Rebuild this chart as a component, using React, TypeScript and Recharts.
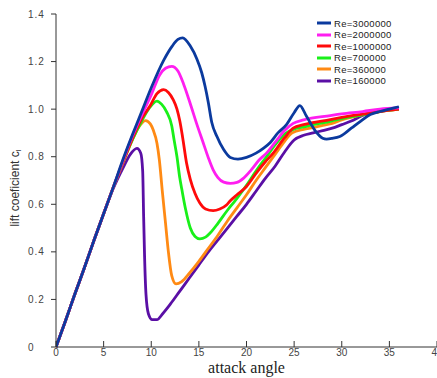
import React from 'react';
import { LineChart, Line, XAxis, YAxis } from 'recharts';

const xTicks = [0, 5, 10, 15, 20, 25, 30, 35, 40];
const yTicks = [0, 0.2, 0.4, 0.6, 0.8, 1.0, 1.2, 1.4];

const re3000000: [number, number][] = [
  [0, 0], [1, 0.11], [2, 0.225], [3, 0.335], [4, 0.45], [5, 0.56], [6, 0.67], [7, 0.785], [8, 0.89],
  [9, 0.99], [10, 1.09], [11.3, 1.205], [12.2, 1.265], [12.8, 1.293], [13.3, 1.3], [14.1, 1.265],
  [14.8, 1.21], [15.3, 1.153], [15.65, 1.096], [16.0, 1.026], [16.35, 0.945], [16.9, 0.885],
  [17.6, 0.83], [18.3, 0.797], [19.1, 0.79], [20, 0.797], [21, 0.815], [21.8, 0.836], [22.5, 0.86],
  [23.3, 0.9], [24.2, 0.935], [25, 0.985], [25.6, 1.015], [26.3, 0.97], [27.2, 0.91], [28, 0.878],
  [28.4, 0.874], [29, 0.877], [29.8, 0.885], [31, 0.92], [32, 0.95], [33, 0.977], [34, 0.99],
  [35, 1.0], [36, 1.01],
];

const re2000000: [number, number][] = [
  [0, 0], [1, 0.11], [2, 0.225], [3, 0.335], [4, 0.45], [5, 0.56], [6, 0.67], [7, 0.78], [8, 0.885],
  [9, 0.975], [10, 1.06], [10.9, 1.145], [11.5, 1.172], [12.15, 1.18], [12.8, 1.16], [13.4, 1.105],
  [14.2, 1.01], [14.8, 0.935], [15.4, 0.865], [16.0, 0.795], [16.5, 0.745], [17.0, 0.712],
  [17.6, 0.693], [18.3, 0.688], [19, 0.692], [19.7, 0.71], [20.5, 0.745], [21.3, 0.785], [22.1, 0.815],
  [23, 0.86], [24, 0.91], [24.9, 0.94], [26, 0.955], [28.8, 0.973], [30, 0.98], [32.2, 0.99],
  [34, 1.0], [36, 1.005],
];

const re1000000: [number, number][] = [
  [0, 0], [1, 0.11], [2, 0.225], [3, 0.335], [4, 0.45], [5, 0.56], [6, 0.67], [7, 0.775], [8, 0.875],
  [9, 0.96], [9.9, 1.015], [10.6, 1.065], [11.3, 1.082], [11.8, 1.07], [12.3, 1.04], [12.7, 1.0],
  [13.0, 0.95], [13.3, 0.88], [13.7, 0.775], [14.1, 0.705], [14.6, 0.645], [15.1, 0.605], [15.7, 0.58],
  [16.5, 0.573], [17.2, 0.58], [17.9, 0.597], [18.3, 0.615], [19, 0.64], [20, 0.675], [21, 0.73],
  [22, 0.78], [22.8, 0.815], [24, 0.88], [24.9, 0.92], [26, 0.935], [28.8, 0.956], [30, 0.965],
  [32, 0.978], [34, 0.99], [36, 1.0],
];

const re700000: [number, number][] = [
  [0, 0], [1, 0.11], [2, 0.225], [3, 0.335], [4, 0.45], [5, 0.56], [6, 0.67], [7, 0.775], [8, 0.87],
  [9, 0.95], [9.8, 1.005], [10.6, 1.034], [11.1, 1.02], [11.6, 0.99], [12.15, 0.93], [12.4, 0.87],
  [12.7, 0.8], [13.0, 0.71], [13.2, 0.665], [13.6, 0.58], [14.1, 0.5], [14.6, 0.465], [15.1, 0.455],
  [15.7, 0.462], [16.2, 0.48], [17, 0.52], [18, 0.575], [18.6, 0.605], [19, 0.625], [20, 0.68],
  [21, 0.74], [22.1, 0.8], [23, 0.85], [24, 0.895], [24.9, 0.915], [26, 0.925], [27, 0.935],
  [28.8, 0.949], [30, 0.96], [32, 0.975], [34, 0.99], [36, 1.0],
];

const re360000: [number, number][] = [
  [0, 0], [1, 0.11], [2, 0.225], [3, 0.335], [4, 0.45], [5, 0.56], [6, 0.67], [7, 0.77], [8, 0.87],
  [8.7, 0.925], [9.4, 0.952], [9.9, 0.938], [10.2, 0.913], [10.6, 0.857], [10.85, 0.787],
  [11.15, 0.66], [11.5, 0.52], [11.8, 0.4], [12.15, 0.3], [12.6, 0.265], [13.2, 0.275], [14, 0.31],
  [15, 0.36], [16, 0.415], [17, 0.47], [18, 0.53], [19, 0.585], [20, 0.64], [21, 0.7], [22, 0.755],
  [23, 0.81], [24, 0.865], [24.8, 0.9], [26, 0.915], [27, 0.922], [28, 0.932], [29, 0.94],
  [30, 0.955], [32, 0.975], [34, 0.99], [36, 1.0],
];

const re160000: [number, number][] = [
  [0, 0], [1, 0.11], [2, 0.225], [3, 0.335], [4, 0.45], [5, 0.56], [6, 0.665], [7, 0.75], [7.8, 0.81],
  [8.5, 0.835], [8.9, 0.815], [9.1, 0.74], [9.2, 0.55], [9.3, 0.38], [9.45, 0.22], [9.7, 0.14],
  [10.1, 0.115], [10.6, 0.115], [11.2, 0.14], [12, 0.18], [13, 0.235], [14, 0.29], [15, 0.345],
  [16, 0.4], [17, 0.45], [18, 0.5], [19, 0.55], [20, 0.6], [21, 0.655], [22, 0.71], [23, 0.76],
  [24, 0.82], [25, 0.87], [26, 0.89], [27, 0.9], [28, 0.91], [29, 0.92], [30, 0.935], [31, 0.95],
  [32, 0.97], [33, 0.985], [34, 0.995], [35, 1.0], [36, 1.005],
];

const seriesNames = ['Re=3000000', 'Re=2000000', 'Re=1000000', 'Re=700000', 'Re=360000', 'Re=160000'];
const seriesColors = ['#0b3a9e', '#ff1ef0', '#ff0a0a', '#19f019', '#ff8a14', '#5a0fa5'];
const seriesData = [re3000000, re2000000, re1000000, re700000, re360000, re160000];

const toPoints = (arr: [number, number][]) => arr.map(([x, y]) => ({ x, y }));

const fmtY = (v: number) => (v === 0 ? '0' : v.toFixed(1));

const YTick = (props: any) => {
  const { x, y, payload } = props;
  return (
    <text x={x - 21} y={y} dy="0.35em" textAnchor="start" fontSize={10} fill="#444"
      letterSpacing={1} fontFamily="Liberation Sans, Arial, sans-serif">
      {fmtY(payload.value)}
    </text>
  );
};

const XTick = (props: any) => {
  const { x, y, payload } = props;
  return (
    <g>
      <line x1={x} x2={x} y1={y} y2={y - 6} stroke="#333" strokeWidth={1} />
      <text x={x} y={y + 9} textAnchor="middle" fontSize={10} fill="#444"
        fontFamily="Liberation Sans, Arial, sans-serif">
        {payload.value}
      </text>
    </g>
  );
};

const XLabel = (props: any) => {
  const { viewBox } = props;
  return (
    <text x={viewBox.x + viewBox.width / 2} y={viewBox.y + 26} textAnchor="middle" fontSize={16}
      fill="#222" fontFamily="Liberation Serif, Times New Roman, serif">
      attack angle
    </text>
  );
};

const YLabel = (props: any) => {
  const { viewBox } = props;
  const cx = 19;
  const cy = viewBox.y + viewBox.height / 2 + 7.5;
  return (
    <text x={cx} y={cy} transform={`rotate(-90 ${cx} ${cy})`} textAnchor="middle" fontSize={12}
      fill="#333" fontFamily="Liberation Sans, Arial, sans-serif">
      lift coeficient c<tspan fontSize={8} dy={2}>l</tspan>
    </text>
  );
};

const LegendBox = () => (
  <div style={{ position: 'absolute', left: 317, top: 17.5, fontFamily: 'Liberation Sans, Arial, sans-serif', fontSize: 9.5, color: '#222', lineHeight: '11.5px' }}>
    {seriesNames.map((n, i) => (
      <div key={n} style={{ display: 'flex', alignItems: 'center', height: 11.5 }}>
        <svg width={15} height={6} style={{ marginRight: 2, display: 'block' }}>
          <line x1={0} x2={14} y1={3} y2={3} stroke={seriesColors[i]} strokeWidth={3} />
        </svg>
        <span style={{ letterSpacing: 0.3 }}>{n}</span>
      </div>
    ))}
  </div>
);

export default function App() {
  const order = [5, 4, 3, 2, 1, 0];
  return (
    <div style={{ position: 'absolute', left: 0, top: 0, width: 437, height: 378, background: '#fff' }}>
      <LineChart width={437} height={378} margin={{ top: 14, right: 0, left: 0, bottom: 0 }}>
        <XAxis dataKey="x" type="number" domain={[0, 40]} ticks={xTicks} allowDataOverflow
          height={31} tickSize={0} tickMargin={0} tickLine={false} tick={<XTick />}
          axisLine={{ stroke: '#333' }} label={<XLabel />} interval={0} />
        <YAxis type="number" domain={[0, 1.4]} ticks={yTicks} width={56} tickSize={5} tickMargin={2}
          tick={<YTick />} tickLine={{ stroke: '#333' }} axisLine={{ stroke: '#333' }}
          label={<YLabel />} interval={0} />
        {order.map((i) => (
          <Line key={seriesNames[i]} data={toPoints(seriesData[i])} dataKey="y" name={seriesNames[i]}
            type="monotone" stroke={seriesColors[i]} strokeWidth={2.8} dot={false}
            isAnimationActive={false} />
        ))}
      </LineChart>
      <LegendBox />
    </div>
  );
}
